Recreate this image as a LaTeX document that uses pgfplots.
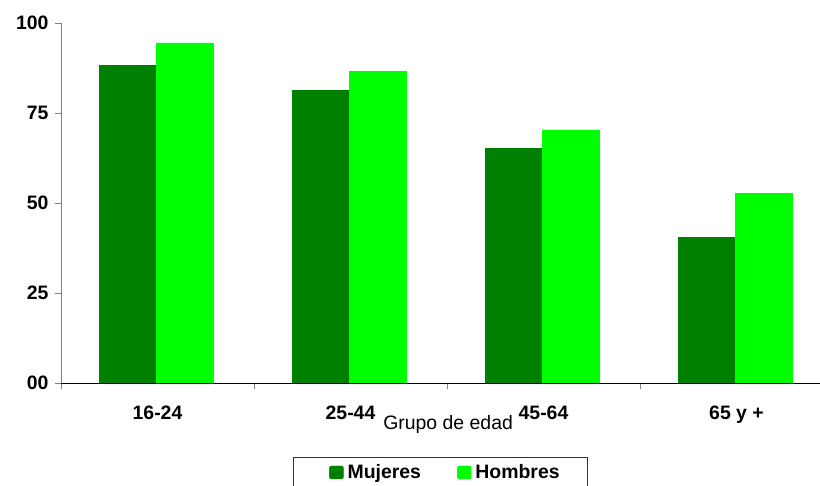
\documentclass[border=0pt]{standalone}
\usepackage{fontspec}
\setmainfont{Liberation Sans}
\usepackage{pgfplots}
\pgfplotsset{compat=1.18}
\definecolor{muj}{RGB}{0,128,0}
\definecolor{hom}{RGB}{0,255,0}
\begin{document}
\begin{tikzpicture}
\useasboundingbox (0,0) rectangle (820bp,486bp);
\begin{axis}[
  at={(61bp,103bp)}, anchor=south west,
  scale only axis, width=759bp, height=360bp,
  ybar, bar width=57bp,
  xmin=-0.5, xmax=3.4326, ymin=0, ymax=100,
  axis x line*=bottom, axis y line*=left,
  x axis line style={black, line width=0.8pt},
  y axis line style={gray, line width=0.8pt},
  xtick={0,1,2,3}, xticklabels={16-24,25-44,45-64,65 y +},
  minor xtick={-0.5,0.5,1.5,2.5},
  major tick length=6bp,
  minor tick length=6bp,
  tick align=outside,
  major x tick style={draw=none},
  minor x tick style={draw=gray, line width=0.8pt},
  ytick={0,25,50,75,100}, yticklabels={00,25,50,75,100},
  ytick style={draw=gray, line width=0.8pt},
  ticklabel style={font=\fontsize{19.5}{21}\selectfont\bfseries},
  xticklabel style={anchor=base, yshift=-30bp},
  yticklabel style={anchor=east, xshift=-3bp},
  xlabel={Grupo de edad},
  xlabel style={font=\fontsize{19.5}{21}\selectfont, at={(axis description cs:0.51,0)}, anchor=base, yshift=-46bp},
  legend columns=2,
  legend image code/.code={\fill[#1, rounded corners=2bp] (0bp,-6.5bp) rectangle (14bp,6.5bp);},
  legend style={at={(0.3531,-0.2486)}, anchor=west, draw=none, fill=none,
    inner sep=0pt, nodes={inner sep=0pt, font=\fontsize{19.5}{21}\selectfont\bfseries},
    /tikz/every odd column/.style={column sep=4bp},
    /tikz/every even column/.style={column sep=36bp}},
]
\addplot[fill=muj, draw=muj, bar shift=-29.5bp] coordinates {(0,88.3) (1,81.2) (2,65.2) (3,40.4)};
\addlegendentry{Mujeres}
\addplot[fill=hom, draw=hom, bar shift=27.5bp] coordinates {(0,94.5) (1,86.5) (2,70.3) (3,52.7)};
\addlegendentry{Hombres}
\end{axis}
\draw[black!80, line width=0.8pt] (293bp,-10bp) rectangle (587bp,29bp);
\end{tikzpicture}
\end{document}
